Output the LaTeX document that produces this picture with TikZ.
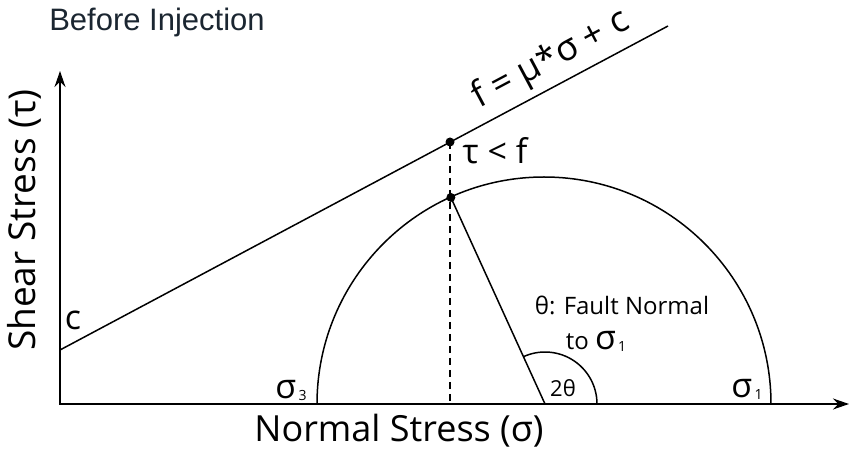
\documentclass[tikz,border=0pt]{standalone}
\usepackage{fontspec}
\setmainfont{Open Sans}
\newfontfamily\titlefont{Liberation Sans}
\usetikzlibrary{arrows.meta,calc}
\definecolor{titleGray}{HTML}{1B2631}
\newcommand{\fsz}[1]{\fontsize{#1}{#1}\selectfont}
\newcommand{\sub}[1]{\raisebox{-2pt}{\fsz{14}\,#1}}

\begin{document}
\begin{tikzpicture}[x=1pt, y=1pt,
    axis/.style={line width=1.5pt, {Stealth[length=16pt,width=11pt]}-{Stealth[length=16pt,width=11pt]}},
    curve/.style={line width=1.5pt},
    dot/.style={circle, fill, inner sep=0pt, minimum size=9pt},
    lbl/.style={inner sep=0pt}]
    \useasboundingbox (0,0) rectangle (851,457);
    % Axis
    \coordinate (origin) at (60,53);
    \coordinate (xend) at (849,53);
    \coordinate (yend) at (60,386);
    \draw[axis] (yend) -- (origin) -- (xend);
    \node[lbl, font=\fsz{36}] (xlab) at (399,26) {Normal Stress (σ)};
    \node[lbl, font=\fsz{37}, rotate=90] (ylab) at (24,237) {Shear Stress (τ)};
    % Failure envelope
    \coordinate (cpt) at (60,107);
    \coordinate (fend) at (668,431);
    \draw[curve] (cpt) -- (fend);
    \node[lbl, font=\fsz{34}] (clab) at (73,137) {c};
    \node[lbl, font=\fsz{36}, rotate=28] (flab) at (551,397) {f = μ*σ + c};
    % Mohr circle
    \coordinate (ctr) at (545,53);
    \coordinate (s3) at (317,53);
    \draw[curve] (s3) arc (180:0:227);
    \coordinate (circPt) at ($(ctr)+(114.5:227)$);
    \coordinate (linePt) at (450,315);
    \coordinate (footPt) at (450,53);
    \draw[curve] (circPt) -- (ctr);
    \draw[line width=1.2pt, dash pattern=on 7pt off 5pt] (linePt) -- (footPt);
    \node[dot] (lineDot) at (linePt) {};
    \node[dot] (circDot) at (circPt) {};
    \node[lbl, font=\fsz{34}] (tlab) at (495,306) {τ < f};
    % Angle
    \draw[curve] ($(ctr)+(52,0)$) arc (0:114.5:52);
    \node[lbl, font=\fsz{22}] (ang) at (563,69) {2θ};
    \node[lbl, font=\fsz{24}] (thlab) at (622,152) {θ: Fault Normal};
    \node[lbl, font=\fsz{24}] (tolab) at (596,116) {to {\fsz{34}σ}\sub{1}};
    % Principal stresses
    \node[lbl, font=\fsz{34}] (s1lab) at (747,68) {σ\sub{1}};
    \node[lbl, font=\fsz{34}] (s3lab) at (291,67) {σ\sub{3}};
    % Title
    \node[lbl, font=\titlefont\fsz{31}, text=titleGray] (title) at (157,435) {Before Injection};
\end{tikzpicture}
\end{document}
